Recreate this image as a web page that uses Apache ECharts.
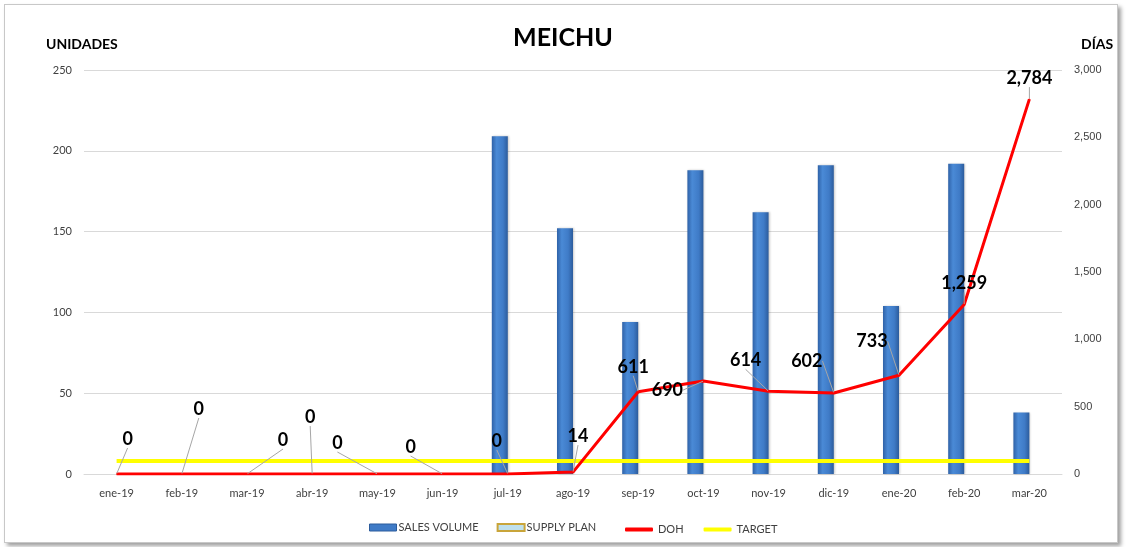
<!DOCTYPE html>
<html>
<head>
<meta charset="utf-8">
<script src="https://cdn.jsdelivr.net/npm/echarts@6/dist/echarts.min.js"></script>
<style>
  html, body { margin:0; padding:0; background:#fff; }
  #chart { width:1126px; height:547px; }
  #frame { position:absolute; left:4px; top:4px; width:1112px; height:537px;
           border:1px solid #c8c8c8; box-shadow:3px 3px 4px #a0a0a0; pointer-events:none; }
</style>
</head>
<body>
<div id="chart"></div>
<div id="frame"></div>
<script>
  var months = ['ene-19', 'feb-19', 'mar-19', 'abr-19', 'may-19', 'jun-19', 'jul-19', 'ago-19',
                'sep-19', 'oct-19', 'nov-19', 'dic-19', 'ene-20', 'feb-20', 'mar-20'];
  var salesVolume = [null, null, null, null, null, null, 209, 152, 94, 188, 162, 191, 104, 192, 38];
  var supplyPlan = [null, null, null, null, null, null, null, null, null, null, null, null, null, null, null];
  var doh = [0, 0, 0, 0, 0, 0, 0, 14, 611, 690, 614, 602, 733, 1259, 2784];
  var target = [8, 8, 8, 8, 8, 8, 8, 8, 8, 8, 8, 8, 8, 8, 8];

  // label offsets (px) so the DOH numbers sit like the excel ones
  var labelOffsets = [[11, -35], [17, -65], [36, -34], [-2, -57], [-40, -31], [-32, -27], [-11, -33],
                      [5, -36], [-5, -25], [-36, 9], [-23, -31], [-27, -32], [-27, -34], [0, -21], [0, -21]];

  var chart = echarts.init(document.getElementById('chart'));
  var fmt = function (v) { return Number(v).toLocaleString('en-US'); };

  var option = {
    backgroundColor: '#fff',
    animation: false,
    title: [
      { text: 'MEICHU', left: 'center', top: 20,
        textStyle: { fontFamily: 'Lato', fontSize: 25, fontWeight: 'bold', color: '#000' } },
      { text: 'UNIDADES', left: 41, top: 32,
        textStyle: { fontFamily: 'Lato', fontSize: 14, fontWeight: 'bold', color: '#000' } },
      { text: 'DÍAS', left: 1076, top: 32,
        textStyle: { fontFamily: 'Lato', fontSize: 14, fontWeight: 'bold', color: '#000' } }
    ],
    legend: [{
      left: 364, top: 517, itemWidth: 27, itemHeight: 7, itemGap: 18,
      textStyle: { fontFamily: 'Lato', fontSize: 11, color: '#404040', padding: [0, 0, 0, -3] },
      data: [
        { name: 'SALES VOLUME', icon: 'rect', itemStyle: { color: '#3f7bc7', borderColor: '#2c5c9c', borderWidth: 1 } },
        { name: 'SUPPLY PLAN', icon: 'rect', itemStyle: { color: '#bfe0ec', borderColor: '#c9a53a', borderWidth: 2 } }
      ]
    }, {
      left: 620, top: 519, itemWidth: 28, itemHeight: 4, itemGap: 20,
      textStyle: { fontFamily: 'Lato', fontSize: 11, color: '#404040' },
      data: [
        { name: 'DOH', icon: 'roundRect', itemStyle: { color: '#ff0000' } },
        { name: 'TARGET', icon: 'roundRect', itemStyle: { color: '#ffff00' } }
      ]
    }],
    grid: { left: 84, right: 64, top: 70, bottom: 73 },
    xAxis: {
      type: 'category',
      data: months,
      axisTick: { show: false },
      axisLine: { lineStyle: { color: '#d9d9d9' } },
      axisLabel: { margin: 14, fontFamily: 'Lato', fontSize: 11, color: '#404040' }
    },
    yAxis: [{
      type: 'value', min: 0, max: 250, interval: 50,
      axisLine: { show: false }, axisTick: { show: false },
      axisLabel: { margin: 12, fontFamily: 'Lato', fontSize: 11, color: '#404040' },
      splitLine: { lineStyle: { color: '#d9d9d9' } }
    }, {
      type: 'value', min: 0, max: 3000, interval: 500,
      axisLine: { show: false }, axisTick: { show: false },
      axisLabel: { margin: 12, fontFamily: 'Liberation Sans', fontSize: 11, color: '#404040', formatter: fmt },
      splitLine: { show: false }
    }],
    series: [{
      name: 'SALES VOLUME', type: 'bar', data: salesVolume, barWidth: 16, barGap: '0%',
      itemStyle: {
        color: new echarts.graphic.LinearGradient(0, 0, 1, 0, [
          { offset: 0, color: '#2f62a8' }, { offset: 0.3, color: '#4a8ad6' },
          { offset: 0.7, color: '#3f7bc7' }, { offset: 1, color: '#2c5c9c' }]),
        shadowColor: 'rgba(0,0,0,0.2)', shadowBlur: 2, shadowOffsetX: 1
      },
      z: 2
    }, {
      name: 'SUPPLY PLAN', type: 'bar', data: supplyPlan, barWidth: 16,
      itemStyle: { color: '#bfe0ec', borderColor: '#c9a53a' }
    }, {
      name: 'TARGET', type: 'line', data: target, yAxisIndex: 0,
      showSymbol: false, lineStyle: { color: '#ffff00', width: 4 },
      itemStyle: { color: '#ffff00' }, z: 3
    }, {
      name: 'DOH', type: 'line', data: doh, yAxisIndex: 1,
      symbol: 'circle', symbolSize: 1,
      lineStyle: { color: '#ff0000', width: 3 },
      itemStyle: { color: '#ff0000' },
      label: {
        show: true, position: 'inside', formatter: function (p) { return fmt(p.value); },
        fontFamily: 'Lato', fontWeight: 'bold', fontSize: 18, color: '#000'
      },
      labelLine: { show: true, lineStyle: { color: '#a6a6a6', width: 1 } },
      labelLayout: function (p) {
        var o = labelOffsets[p.dataIndex];
        return { dx: o[0], dy: o[1] };
      },
      z: 4
    }]
  };

  chart.setOption(option);
</script>
</body>
</html>
